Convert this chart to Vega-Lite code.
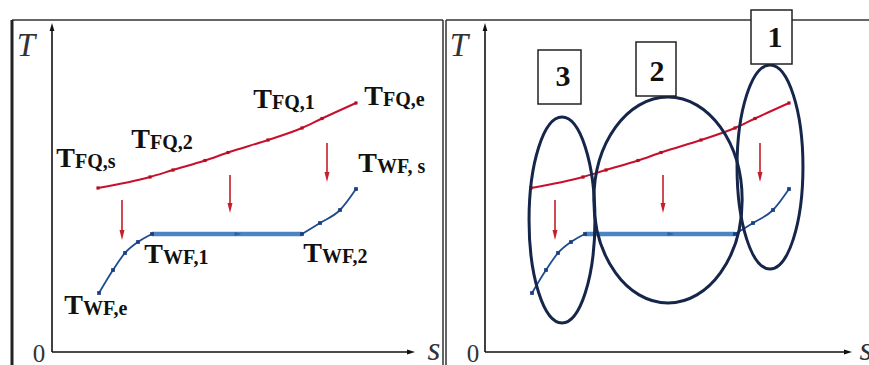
{
  "$schema": "https://vega.github.io/schema/vega-lite/v6.json",
  "padding": 0,
  "bounds": "flush",
  "spacing": 0,
  "background": "white",
  "config": {
    "view": {"stroke": null},
    "text": {"font": "Liberation Serif", "color": "#111111"}
  },
  "datasets": {
    "frameL": [
      {"s": -1.6, "T": 13.28, "s2": 15.64, "T2": 13.28},
      {"s": 15.64, "T": -0.52, "s2": 15.64, "T2": 13.28}
    ],
    "frameLeftEdge": [
      {"s": -1.6, "T": -0.52, "s2": -1.6, "T2": 13.28}
    ],
    "frameR": [
      {"s": -1.56, "T": -0.52, "s2": -1.56, "T2": 13.28},
      {"s": -1.56, "T": 13.28, "s2": 15.36, "T2": 13.28}
    ],
    "axesL": [
      {"s": 0, "T": 0, "s2": 0, "T2": 12.9},
      {"s": 0, "T": 0, "s2": 14.25, "T2": 0}
    ],
    "headUp": [{"s": 0, "T": 13.0}],
    "headRightL": [{"s": 14.36, "T": 0}],
    "axesR": [
      {"s": 0, "T": 0, "s2": 0, "T2": 12.9},
      {"s": 0, "T": 0, "s2": 14.4, "T2": 0}
    ],
    "headRightR": [{"s": 14.52, "T": 0}],
    "fq": [
      {"s": 1.84, "T": 6.56},
      {"s": 3.92, "T": 7.0},
      {"s": 4.84, "T": 7.28},
      {"s": 6.12, "T": 7.66},
      {"s": 7.04, "T": 7.98},
      {"s": 8.64, "T": 8.48},
      {"s": 10.0, "T": 8.96},
      {"s": 10.8, "T": 9.34},
      {"s": 12.16, "T": 9.96}
    ],
    "wfLow": [
      {"s": 1.88, "T": 2.36},
      {"s": 2.44, "T": 3.28},
      {"s": 2.92, "T": 3.96},
      {"s": 3.44, "T": 4.4},
      {"s": 4.0, "T": 4.72}
    ],
    "wfFlat": [
      {"s": 4.0, "T": 4.72},
      {"s": 10.0, "T": 4.72}
    ],
    "wfHigh": [
      {"s": 10.0, "T": 4.72},
      {"s": 10.72, "T": 5.16},
      {"s": 11.52, "T": 5.68},
      {"s": 12.16, "T": 6.52}
    ],
    "flatMark": [{"s": 7.44, "T": 4.72}],
    "drops": [
      {"s": 2.8, "T": 6.08, "T2": 4.8},
      {"s": 7.12, "T": 7.08, "T2": 5.88},
      {"s": 11.0, "T": 8.36, "T2": 7.12}
    ],
    "dropHeads": [
      {"s": 2.8, "T": 4.68},
      {"s": 7.12, "T": 5.76},
      {"s": 11.0, "T": 7.0}
    ],
    "labels": [
      {"s": 0.92, "T": 7.4, "sub": "FQ,s"},
      {"s": 3.92, "T": 8.16, "sub": "FQ,2"},
      {"s": 8.8, "T": 9.76, "sub": "FQ,1"},
      {"s": 13.24, "T": 9.88, "sub": "FQ,e"},
      {"s": 13.0, "T": 7.2, "sub": "WF, s"},
      {"s": 4.44, "T": 3.56, "sub": "WF,1"},
      {"s": 10.8, "T": 3.6, "sub": "WF,2"},
      {"s": 1.24, "T": 1.52, "sub": "WF,e"}
    ],
    "axisNamesL": [
      {"s": -1.04, "T": 11.84, "txt": "T"},
      {"s": 15.28, "T": -0.32, "txt": "s"}
    ],
    "axisNamesR": [
      {"s": -1.04, "T": 11.84, "txt": "T"},
      {"s": 15.24, "T": -0.32, "txt": "s"}
    ],
    "originL": [{"s": -0.52, "T": -0.4, "txt": "0"}],
    "originR": [{"s": -0.48, "T": -0.4, "txt": "0"}],
    "zones": [
      {"s": 3.08, "T": 5.28, "zone": "3"},
      {"s": 7.32, "T": 6.08, "zone": "2"},
      {"s": 11.4, "T": 7.4, "zone": "1"}
    ],
    "boxes": [
      {"s": 2.12, "s2": 3.84, "T": 9.92, "T2": 12.08},
      {"s": 6.04, "s2": 7.64, "T": 10.24, "T2": 12.4},
      {"s": 10.64, "s2": 12.28, "T": 11.52, "T2": 13.68}
    ],
    "boxNums": [
      {"s": 3.12, "T": 11.0, "num": "3"},
      {"s": 6.88, "T": 11.2, "num": "2"},
      {"s": 11.6, "T": 12.56, "num": "1"}
    ]
  },
  "hconcat": [
    {
      "width": 444,
      "height": 365,
      "encoding": {
        "x": {"field": "s", "type": "quantitative", "scale": {"domain": [-2.08, 15.68], "nice": false, "zero": false}, "axis": null},
        "y": {"field": "T", "type": "quantitative", "scale": {"domain": [-0.52, 14.08], "nice": false, "zero": false}, "axis": null}
      },
      "layer": [
        {"data": {"name": "frameL"}, "mark": {"type": "rule", "stroke": "#333333", "strokeWidth": 1.5}, "encoding": {"x2": {"field": "s2"}, "y2": {"field": "T2"}}},
        {"data": {"name": "frameLeftEdge"}, "mark": {"type": "rule", "stroke": "#222222", "strokeWidth": 3}, "encoding": {"x2": {"field": "s2"}, "y2": {"field": "T2"}}},
        {"data": {"name": "axesL"}, "mark": {"type": "rule", "stroke": "#111111", "strokeWidth": 1.6}, "encoding": {"x2": {"field": "s2"}, "y2": {"field": "T2"}}},
        {"data": {"name": "headUp"}, "mark": {"type": "point", "shape": "M0,-1L0.6,1L-0.6,1Z", "filled": true, "size": 64, "color": "#111111", "opacity": 1}},
        {"data": {"name": "headRightL"}, "mark": {"type": "point", "shape": "M1,0L-1,0.6L-1,-0.6Z", "filled": true, "size": 64, "color": "#111111", "opacity": 1}},
        {"data": {"name": "fq"}, "mark": {"type": "line", "color": "#c8102e", "strokeWidth": 2, "interpolate": "monotone"}},
        {"data": {"name": "fq"}, "mark": {"type": "point", "shape": "square", "filled": true, "size": 10, "color": "#b00e22", "opacity": 1}},
        {"data": {"name": "wfLow"}, "mark": {"type": "line", "color": "#1f4b8f", "strokeWidth": 1.8, "interpolate": "monotone"}},
        {"data": {"name": "wfHigh"}, "mark": {"type": "line", "color": "#1f4b8f", "strokeWidth": 1.8, "interpolate": "monotone"}},
        {"data": {"name": "wfFlat"}, "mark": {"type": "line", "color": "#4a84c4", "strokeWidth": 4.5}},
        {"data": {"name": "wfLow"}, "mark": {"type": "point", "shape": "square", "filled": true, "size": 14, "color": "#1a3f80", "opacity": 1}},
        {"data": {"name": "wfHigh"}, "mark": {"type": "point", "shape": "square", "filled": true, "size": 14, "color": "#1a3f80", "opacity": 1}},
        {"data": {"name": "flatMark"}, "mark": {"type": "point", "shape": "M1,0L-1,0.6L-1,-0.6Z", "filled": true, "size": 49, "color": "#2a64a8", "opacity": 1}},
        {"data": {"name": "drops"}, "mark": {"type": "rule", "stroke": "#c41f2a", "strokeWidth": 1.6}, "encoding": {"y2": {"field": "T2"}}},
        {"data": {"name": "dropHeads"}, "mark": {"type": "point", "shape": "M0,1L-0.5,-1L0.5,-1Z", "filled": true, "size": 100, "color": "#c41f2a", "opacity": 1}},
        {"data": {"name": "labels"}, "mark": {"type": "text", "align": "right", "baseline": "alphabetic", "fontSize": 28, "fontWeight": "bold"}, "encoding": {"text": {"value": "T"}}},
        {"data": {"name": "labels"}, "mark": {"type": "text", "align": "left", "baseline": "alphabetic", "fontSize": 20, "fontWeight": "bold", "dy": 1}, "encoding": {"text": {"field": "sub"}}},
        {"data": {"name": "axisNamesL"}, "mark": {"type": "text", "align": "center", "baseline": "alphabetic", "fontSize": 33, "fontStyle": "italic", "color": "#333333"}, "encoding": {"text": {"field": "txt"}}},
        {"data": {"name": "originL"}, "mark": {"type": "text", "align": "center", "baseline": "alphabetic", "fontSize": 25, "color": "#333333"}, "encoding": {"text": {"field": "txt"}}}
      ]
    },
    {
      "width": 425,
      "height": 365,
      "encoding": {
        "x": {"field": "s", "type": "quantitative", "scale": {"domain": [-1.64, 15.36], "nice": false, "zero": false}, "axis": null},
        "y": {"field": "T", "type": "quantitative", "scale": {"domain": [-0.52, 14.08], "nice": false, "zero": false}, "axis": null}
      },
      "layer": [
        {"data": {"name": "frameR"}, "mark": {"type": "rule", "stroke": "#333333", "strokeWidth": 1.5}, "encoding": {"x2": {"field": "s2"}, "y2": {"field": "T2"}}},
        {"data": {"name": "axesR"}, "mark": {"type": "rule", "stroke": "#111111", "strokeWidth": 1.6}, "encoding": {"x2": {"field": "s2"}, "y2": {"field": "T2"}}},
        {"data": {"name": "headUp"}, "mark": {"type": "point", "shape": "M0,-1L0.6,1L-0.6,1Z", "filled": true, "size": 64, "color": "#111111", "opacity": 1}},
        {"data": {"name": "headRightR"}, "mark": {"type": "point", "shape": "M1,0L-1,0.6L-1,-0.6Z", "filled": true, "size": 64, "color": "#111111", "opacity": 1}},
        {"data": {"name": "fq"}, "mark": {"type": "line", "color": "#c8102e", "strokeWidth": 2, "interpolate": "monotone"}},
        {"data": {"name": "fq"}, "mark": {"type": "point", "shape": "square", "filled": true, "size": 10, "color": "#b00e22", "opacity": 1}},
        {"data": {"name": "wfLow"}, "mark": {"type": "line", "color": "#1f4b8f", "strokeWidth": 1.8, "interpolate": "monotone"}},
        {"data": {"name": "wfHigh"}, "mark": {"type": "line", "color": "#1f4b8f", "strokeWidth": 1.8, "interpolate": "monotone"}},
        {"data": {"name": "wfFlat"}, "mark": {"type": "line", "color": "#4a84c4", "strokeWidth": 4.5}},
        {"data": {"name": "wfLow"}, "mark": {"type": "point", "shape": "square", "filled": true, "size": 14, "color": "#1a3f80", "opacity": 1}},
        {"data": {"name": "wfHigh"}, "mark": {"type": "point", "shape": "square", "filled": true, "size": 14, "color": "#1a3f80", "opacity": 1}},
        {"data": {"name": "flatMark"}, "mark": {"type": "point", "shape": "M1,0L-1,0.6L-1,-0.6Z", "filled": true, "size": 49, "color": "#2a64a8", "opacity": 1}},
        {"data": {"name": "drops"}, "mark": {"type": "rule", "stroke": "#c41f2a", "strokeWidth": 1.6}, "encoding": {"y2": {"field": "T2"}}},
        {"data": {"name": "dropHeads"}, "mark": {"type": "point", "shape": "M0,1L-0.5,-1L0.5,-1Z", "filled": true, "size": 100, "color": "#c41f2a", "opacity": 1}},
        {"data": {"name": "zones"}, "transform": [{"filter": "datum.zone === '1'"}], "mark": {"type": "point", "shape": "M0,-0.99A0.32,0.99,0,1,1,0,0.99A0.32,0.99,0,1,1,0,-0.99Z", "filled": false, "size": 42436, "color": "#16264b", "strokeWidth": 3, "opacity": 1}},
        {"data": {"name": "zones"}, "transform": [{"filter": "datum.zone === '2'"}], "mark": {"type": "point", "shape": "M0,-1A0.72,1,0,1,1,0,1A0.72,1,0,1,1,0,-1Z", "filled": false, "size": 42436, "color": "#16264b", "strokeWidth": 3, "opacity": 1}},
        {"data": {"name": "zones"}, "transform": [{"filter": "datum.zone === '3'"}], "mark": {"type": "point", "shape": "M0,-1A0.32,1,0,1,1,0,1A0.32,1,0,1,1,0,-1Z", "filled": false, "size": 42436, "color": "#16264b", "strokeWidth": 3, "opacity": 1}},
        {"data": {"name": "boxes"}, "mark": {"type": "rect", "fill": "white", "stroke": "#222222", "strokeWidth": 1.5}, "encoding": {"x2": {"field": "s2"}, "y2": {"field": "T2"}}},
        {"data": {"name": "boxNums"}, "mark": {"type": "text", "align": "center", "baseline": "middle", "fontSize": 30, "fontWeight": "bold"}, "encoding": {"text": {"field": "num"}}},
        {"data": {"name": "axisNamesR"}, "mark": {"type": "text", "align": "center", "baseline": "alphabetic", "fontSize": 33, "fontStyle": "italic", "color": "#333333", "clip": true}, "encoding": {"text": {"field": "txt"}}},
        {"data": {"name": "originR"}, "mark": {"type": "text", "align": "center", "baseline": "alphabetic", "fontSize": 25, "color": "#333333"}, "encoding": {"text": {"field": "txt"}}}
      ]
    }
  ]
}
